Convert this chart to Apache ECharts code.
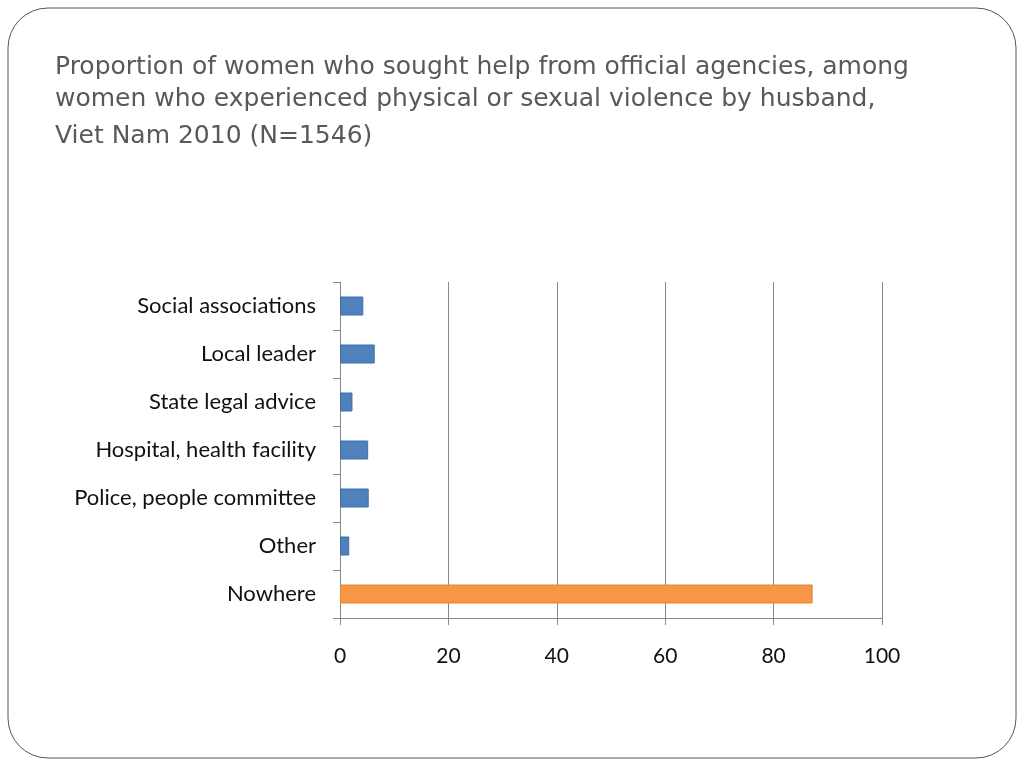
<!DOCTYPE html>
<html>
<head>
<meta charset="utf-8">
<script src="https://cdn.jsdelivr.net/npm/echarts@6/dist/echarts.min.js"></script>
<style>html,body{margin:0;padding:0;background:#fff}#c{width:1024px;height:768px}</style>
</head>
<body>
<div id="c"></div>
<script>
const categories = ["Social associations", "Local leader", "State legal advice", "Hospital, health facility", "Police, people committee", "Other", "Nowhere"];
const values = [4.3, 6.4, 2.3, 5.2, 5.3, 1.7, 87.2];
const xTicks = [0, 20, 40, 60, 80, 100];
const titleLines = ["Proportion of women who sought help from official agencies, among", "women who experienced physical or sexual violence by husband,"];
const subtitle = "Viet Nam 2010 (N=1546)";

const chart = echarts.init(document.getElementById('c'), null, {renderer: 'canvas'});
const blue = '#4F81BD', orange = '#F79646';
chart.setOption({
  animation: false,
  backgroundColor: '#fff',
  graphic: [{
    type: 'rect', shape: {x: 8, y: 8, width: 1008, height: 750, r: 40},
    style: {fill: 'none', stroke: '#555', lineWidth: 1}, silent: true, z: -1
  }],
  title: [
    {text: titleLines.join('\n'), left: 50, top: 46,
     textStyle: {fontFamily: 'DejaVu Sans', fontSize: 25, fontWeight: 'normal', color: '#595959', lineHeight: 32}},
    {text: subtitle, left: 50, top: 115,
     textStyle: {fontFamily: 'DejaVu Sans', fontSize: 25, fontWeight: 'normal', color: '#595959', lineHeight: 32}}
  ],
  grid: {left: 340, right: 142, top: 282, bottom: 150, containLabel: false},
  xAxis: {
    type: 'value', min: 0, max: 100, interval: 20,
    axisLine: {show: true, lineStyle: {color: '#888', width: 1}},
    axisTick: {show: true, length: 7, lineStyle: {color: '#888'}},
    splitLine: {show: true, lineStyle: {color: '#888', width: 1}},
    axisLabel: {fontFamily: 'Lato', fontSize: 21, color: '#111', margin: 28,
      formatter: v => xTicks.includes(v) ? String(v) : ''}
  },
  yAxis: {
    type: 'category', data: categories, inverse: true,
    axisLine: {show: true, lineStyle: {color: '#888', width: 1}},
    axisTick: {show: true, length: 7, lineStyle: {color: '#888'}},
    splitLine: {show: false},
    axisLabel: {fontFamily: 'Lato', fontSize: 22, color: '#111', margin: 24}
  },
  series: [{
    type: 'bar', barWidth: 19,
    data: values.map((v, i) => ({
      value: v,
      itemStyle: {color: i === values.length - 1 ? orange : blue,
                  borderColor: i === values.length - 1 ? '#E0852F' : '#3F6FA8', borderWidth: 1}
    }))
  }]
});
</script>
</body>
</html>
